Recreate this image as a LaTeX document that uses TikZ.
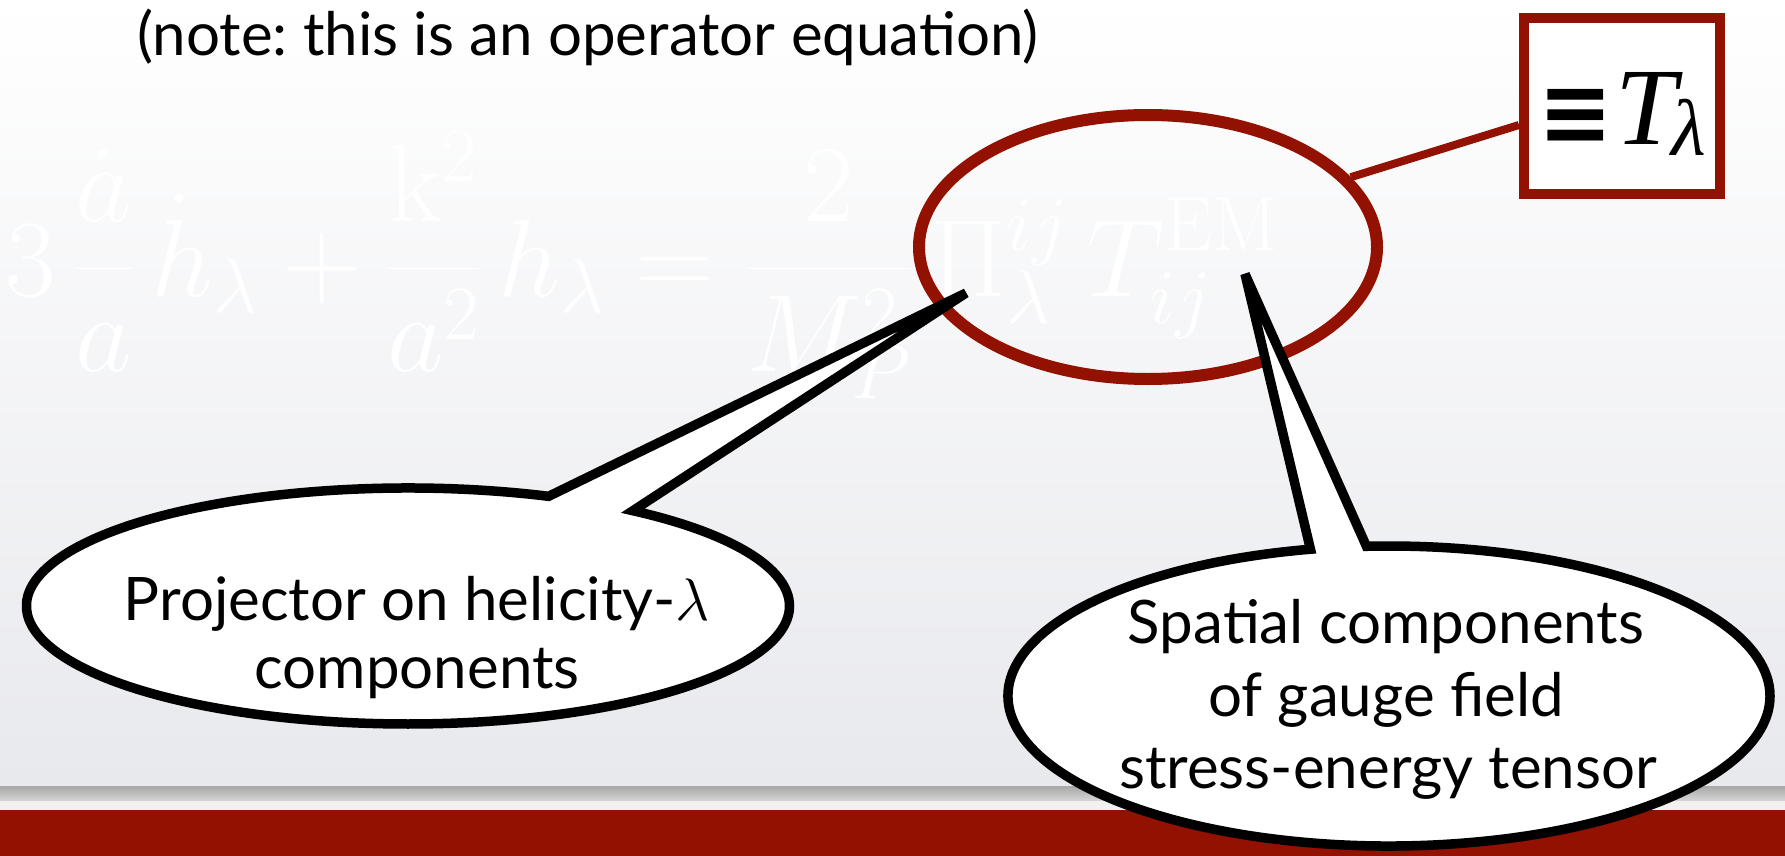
\RequirePackage{fix-cm}
\documentclass[tikz,border=0pt]{standalone}
\usepackage[no-math]{fontspec}
\setmainfont{Lato}
\newfontfamily\serifT{Liberation Serif}
\newfontfamily\dejav{DejaVu Sans}
\usetikzlibrary{shapes.callouts,shapes.geometric}
\definecolor{slidered}{RGB}{147,17,0}
\definecolor{bgbottom}{RGB}{232,233,237}
\definecolor{barlight}{RGB}{168,168,168}
\definecolor{bardark}{RGB}{70,70,70}
\definecolor{barlow}{RGB}{214,214,214}
\definecolor{band}{RGB}{242,241,239}
\tikzset{
  bubble/.style={ellipse callout, draw=black, fill=white, line width=9.5pt, inner sep=0pt},
  bubbletext/.style={anchor=base, inner sep=0pt, font=\fontsize{60}{72}\selectfont},
  redmark/.style={draw=slidered, line width=12pt},
}
\begin{document}
\frenchspacing
\begin{tikzpicture}[x=1pt,y=-1pt]
\useasboundingbox (0,0) rectangle (1785,856);
% background
\fill[top color=white, bottom color=bgbottom] (0,0) rectangle (1785,787);
\shade[top color=barlight, middle color=bardark, bottom color=barlow] (0,786) rectangle (1785,801);
\fill[band] (0,801) rectangle (1785,810);
\fill[slidered] (0,810) rectangle (1785,856);
% faint equation
\node[anchor=base west, text=white, inner sep=0pt, font=\fontsize{110}{130}\selectfont] (eq) at (5,296)
  {$\displaystyle 3\,\frac{\dot a}{a}\,\dot h_\lambda+\frac{\mathrm{k}^2}{a^2}\,h_\lambda=\frac{2}{M_P^2}\,\Pi_\lambda^{ij}\,T_{ij}^{\mathrm{EM}}$};
% heading
\node[anchor=base west, inner sep=0pt, font=\fontsize{60}{70}\selectfont] (note) at (137,56) {(note: this is an operator equation)};
% red ellipse and box
\node[redmark, ellipse, minimum width=458pt, minimum height=264pt, inner sep=0pt] (hl) at (1148,247) {};
\node[draw=slidered, line width=10pt, fill=white, minimum width=196pt, minimum height=176pt, inner sep=0pt] (tbox) at (1622,106) {};
\node[anchor=base west, inner sep=0pt] (tl) at (1538,145)
  {\scalebox{1.14}[1.2]{\dejav\bfseries\fontsize{78}{78}\selectfont ≡}\kern3pt{\serifT\itshape\fontsize{110}{110}\selectfont T}\kern-5pt\raisebox{-10pt}{\serifT\itshape\fontsize{80}{80}\selectfont λ}};
\draw[slidered, line width=8pt] (hl.19) -- ([yshift=-19pt]tbox.west);
% callouts
\coordinate (tip1) at (966,293);
\coordinate (tip2) at (1245,274);
\node[bubble, minimum width=763pt, minimum height=236pt, callout absolute pointer=(tip1), callout pointer arc=14.5] (c1) at (408,606) {};
\node[bubble, minimum width=762pt, minimum height=300pt, callout absolute pointer=(tip2), callout pointer arc=8.5] (c2) at (1389,696) {};
\node[bubbletext] (c1a) at (417,620) {Projector on helicity-$\lambda$};
\node[bubbletext] (c1b) at (417,688) {components};
\node[bubbletext] (c2a) at (1386,643) {Spatial components};
\node[bubbletext] (c2b) at (1386,716) {of gauge field};
\node[bubbletext] (c2c) at (1388,788) {stress-energy tensor};
\end{tikzpicture}
\end{document}
